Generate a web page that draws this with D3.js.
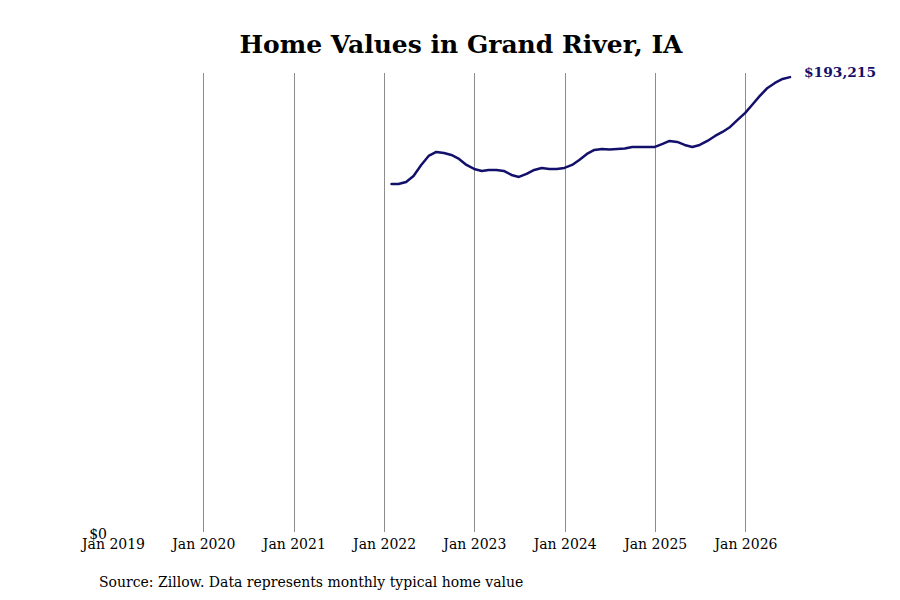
<!DOCTYPE html>
<html lang="en">
<head>
<meta charset="UTF-8">
<title>Home Values in Grand River, IA</title>
<style>
html, body {
  margin: 0;
  padding: 0;
  background: #fff;
}
svg {
  display: block;
  font-family: 'DejaVu Serif', serif;
}
.grid line {
  stroke: #8c8c8c;
  stroke-width: 1;
}
</style>
</head>
<body>
<svg width="900" height="600"></svg>
<script src="https://cdnjs.cloudflare.com/ajax/libs/d3/7.8.5/d3.min.js"></script>
<script>
// month-end dates, Jan 2022 .. Jun 2026
const startMonth = '2022-01-31';
const homeValues = [
  147830, 147830, 148680, 151230, 155900, 159720, 161420, 161000, 160150, 158450, 155900, 154200,
  153350, 153780, 153780, 153350, 151650, 150800, 152080, 153780, 154630, 154200, 154200, 154630,
  155900, 158030, 160570, 162270, 162700, 162490, 162700, 162910, 163550, 163550, 163550, 163550,
  164820, 166100, 165670, 164400, 163550, 164400, 166100, 168220, 169920, 172040, 175020, 178000,
  181810, 185210, 188610, 190740, 192440, 193215
];
const tickYears = [2019, 2020, 2021, 2022, 2023, 2024, 2025, 2026];
const yTicks = [0];
const chartTitle = 'Home Values in Grand River, IA';
const sourceNote = 'Source: Zillow. Data represents monthly typical home value';

const svg = d3.select('svg');

const start = d3.timeParse('%Y-%m-%d')(startMonth);
const data = homeValues.map(function (v, i) {
  // last day of the month i months after the start
  const d = new Date(start.getFullYear(), start.getMonth() + i + 1, 0);
  return { date: d, value: v };
});

const x = d3.scaleTime()
  .domain([new Date(2019, 0, 1), data[data.length - 1].date])
  .range([113, 790]);

const y = d3.scaleLinear()
  .domain([0, d3.max(homeValues) * 1.009])
  .range([532, 73]);

svg.append('text')
  .attr('x', 461)
  .attr('y', 44)
  .attr('dy', '0.35em')
  .attr('text-anchor', 'middle')
  .attr('font-size', 25)
  .attr('font-weight', 'bold')
  .attr('fill', '#000')
  .text(chartTitle);

// vertical gridlines at each January (except the first)
svg.append('g')
  .attr('class', 'grid')
  .selectAll('line')
  .data(tickYears.slice(1))
  .enter()
  .append('line')
  .attr('x1', function (d) { return Math.round(x(new Date(d, 0, 1))) + 0.5; })
  .attr('x2', function (d) { return Math.round(x(new Date(d, 0, 1))) + 0.5; })
  .attr('y1', y.range()[1])
  .attr('y2', y.range()[0]);

const xAxis = svg.append('g')
  .attr('transform', 'translate(0,' + 537 + ')')
  .call(d3.axisBottom(x)
    .tickValues(tickYears.map(function (yr) { return new Date(yr, 0, 1); }))
    .tickFormat(d3.timeFormat('%b %Y'))
    .tickSize(0)
    .tickPadding(2.5));
xAxis.select('.domain').remove();
xAxis.selectAll('text')
  .attr('font-family', 'DejaVu Serif, serif')
  .attr('font-size', 14)
  .attr('fill', '#000');

const yAxis = svg.append('g')
  .attr('transform', 'translate(110,0)')
  .call(d3.axisLeft(y)
    .tickValues(yTicks)
    .tickFormat(function (d) { return '$' + d3.format(',')(d); })
    .tickSize(0)
    .tickPadding(3));
yAxis.select('.domain').remove();
yAxis.selectAll('text')
  .attr('font-family', 'DejaVu Serif, serif')
  .attr('font-size', 14)
  .attr('dy', '0.45em')
  .attr('fill', '#000');

const line = d3.line()
  .x(function (d) { return x(d.date); })
  .y(function (d) { return y(d.value); });

svg.append('path')
  .datum(data)
  .attr('fill', 'none')
  .attr('stroke', '#13106b')
  .attr('stroke-width', 2.5)
  .attr('stroke-linejoin', 'round')
  .attr('stroke-linecap', 'round')
  .attr('d', line);

const last = data[data.length - 1];
svg.append('text')
  .attr('x', x(last.date) + 14)
  .attr('y', y(last.value) - 5)
  .attr('dy', '0.35em')
  .attr('font-size', 13.8)
  .attr('font-weight', 'bold')
  .attr('fill', '#13106b')
  .text('$' + d3.format(',')(last.value));

svg.append('text')
  .attr('x', 99)
  .attr('y', 582)
  .attr('dy', '0.35em')
  .attr('font-size', 14)
  .attr('fill', '#000')
  .text(sourceNote);
</script>
</body>
</html>
